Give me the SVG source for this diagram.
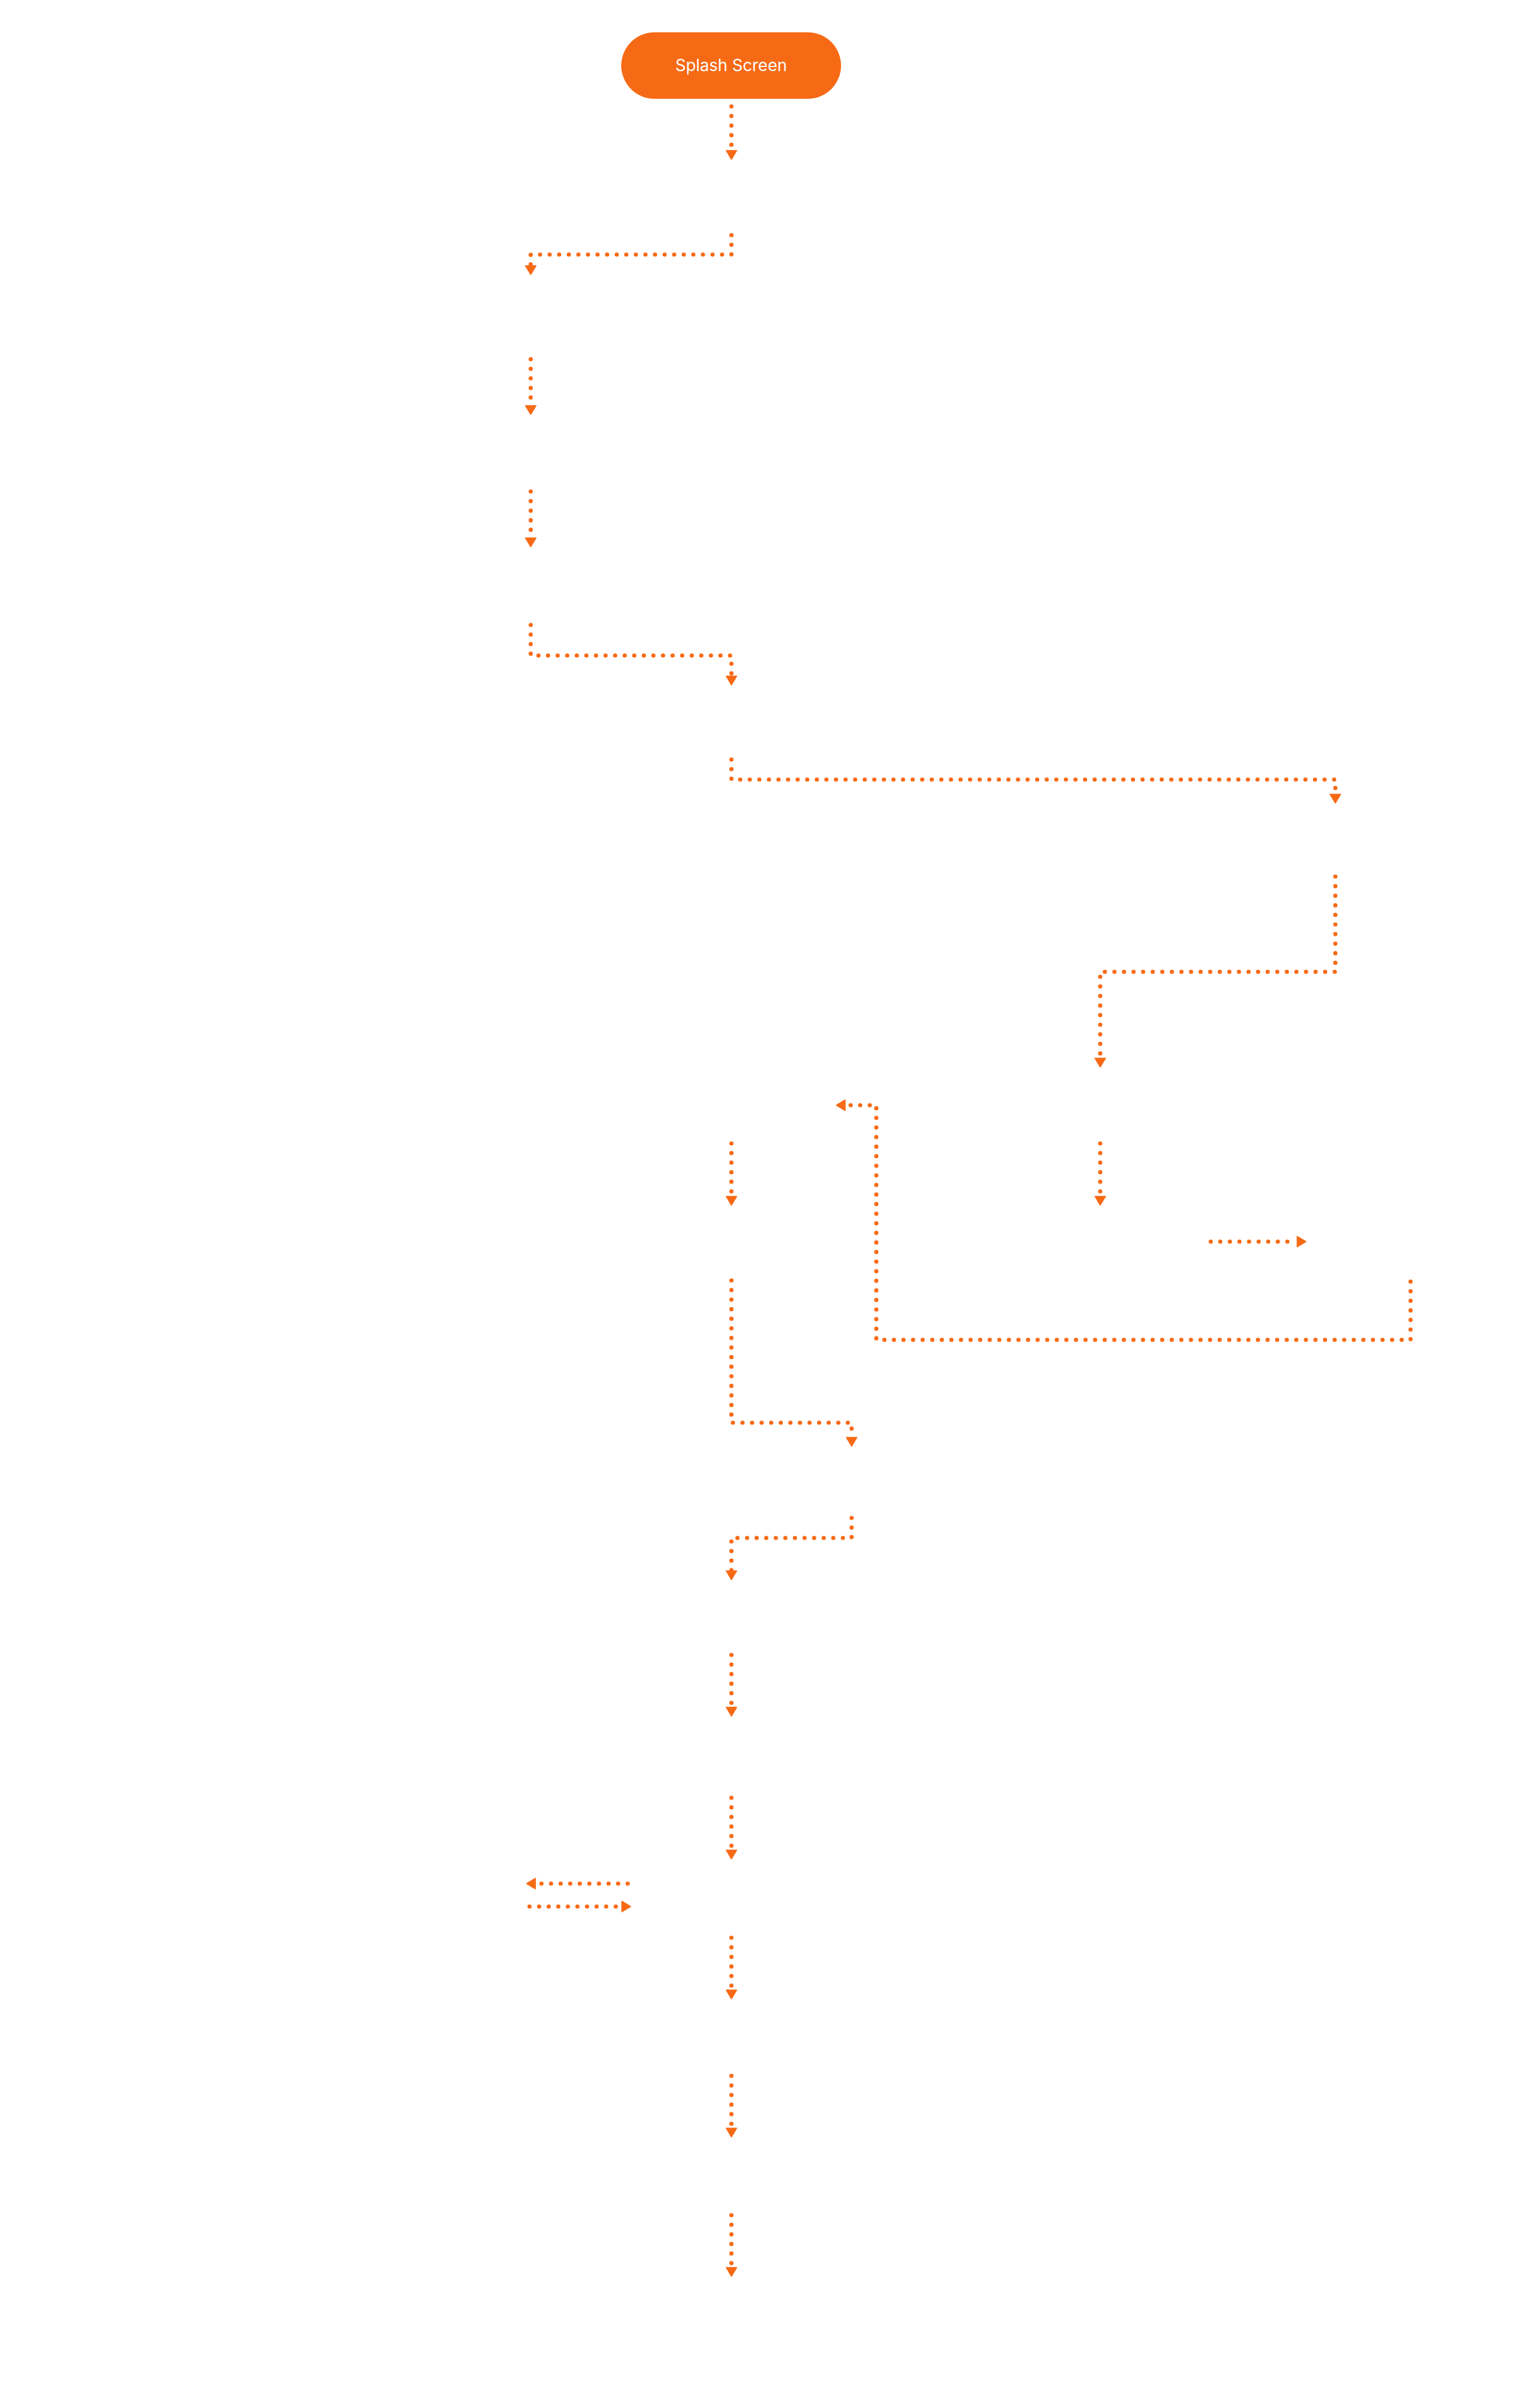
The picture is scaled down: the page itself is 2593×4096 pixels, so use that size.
<svg xmlns="http://www.w3.org/2000/svg" width="2593" height="4096" viewBox="0 0 2593 4096">
<defs>
<style>
.bg{fill:#ffffff}
.pill{fill:#F76A15}
.lbl{font-family:Inter,"Noto Sans","Liberation Sans",sans-serif;font-size:28px;fill:#ffffff;text-anchor:middle}
.dot{fill:none;stroke:#F76A15;stroke-width:7.2;stroke-linecap:round;stroke-linejoin:round;stroke-dasharray:0 16.3}
</style>
<marker id="ah" markerUnits="userSpaceOnUse" viewBox="0 0 17 20" refX="0" refY="10" markerWidth="17" markerHeight="20" orient="auto">
<path d="M1,1 L16,10 L1,19 Z" fill="#F76A15" stroke="#F76A15" stroke-width="1.5" stroke-linejoin="round"/>
</marker>
</defs>
<rect class="bg" x="0" y="0" width="2593" height="4096"/>
<g id="node-splash">
<rect class="pill" x="1057" y="55" width="374" height="113" rx="56.5"/>
<text class="lbl" x="1244" y="121">Splash Screen</text>
</g>
<g id="connectors">
<path class="dot" d="M1244.5,181 V255" marker-end="url(#ah)"/>
<path class="dot" d="M1244.5,400 V433 H903 V451" marker-end="url(#ah)"/>
<path class="dot" d="M903,611 V689" marker-end="url(#ah)"/>
<path class="dot" d="M903,836 V914" marker-end="url(#ah)"/>
<path class="dot" d="M903,1063 V1115 H1244.5 V1149" marker-end="url(#ah)"/>
<path class="dot" d="M1244.5,1292 V1326 H2272 V1350" marker-end="url(#ah)"/>
<path class="dot" d="M2272,1491 V1653 H1872 V1799" marker-end="url(#ah)"/>
<path class="dot" d="M2400,2180 V2279 H1491 V1880 H1439" marker-end="url(#ah)"/>
<path class="dot" d="M1244.5,1945 V2034" marker-end="url(#ah)"/>
<path class="dot" d="M1872,1945 V2034" marker-end="url(#ah)"/>
<path class="dot" d="M2060,2112 H2206" marker-end="url(#ah)"/>
<path class="dot" d="M1244.5,2178 V2420 H1449 V2444" marker-end="url(#ah)"/>
<path class="dot" d="M1449,2582 V2616 H1244.5 V2671" marker-end="url(#ah)"/>
<path class="dot" d="M1244.5,2815 V2903" marker-end="url(#ah)"/>
<path class="dot" d="M1244.5,3058 V3146" marker-end="url(#ah)"/>
<path class="dot" d="M1068,3204 H912" marker-end="url(#ah)"/>
<path class="dot" d="M901,3243 H1057" marker-end="url(#ah)"/>
<path class="dot" d="M1244.5,3296 V3384" marker-end="url(#ah)"/>
<path class="dot" d="M1244.5,3531 V3619" marker-end="url(#ah)"/>
<path class="dot" d="M1244.5,3768 V3856" marker-end="url(#ah)"/>
</g>
</svg>
